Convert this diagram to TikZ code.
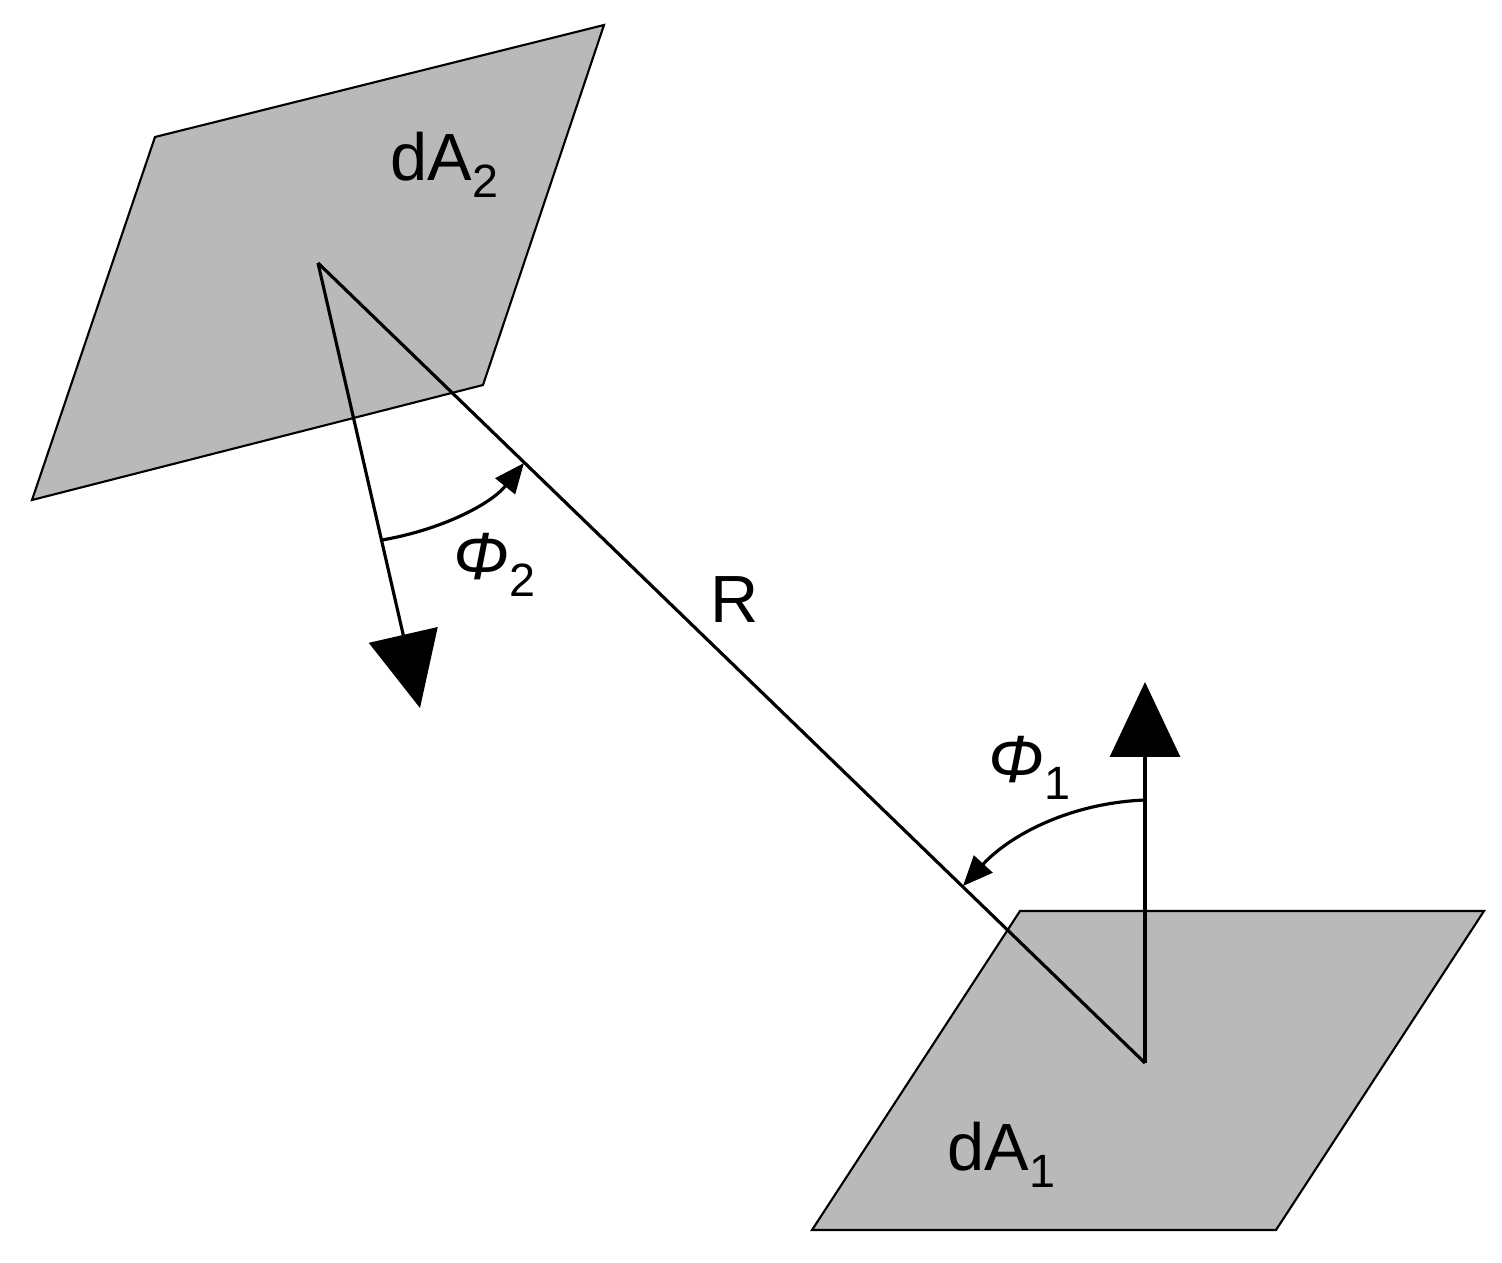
\documentclass[tikz,border=0pt]{standalone}
\usepackage{fontspec}
\setmainfont{Liberation Sans}
\usetikzlibrary{arrows.meta}
\begin{document}
\begin{tikzpicture}[x=0.02cm,y=-0.02cm,
  plate/.style={fill=black!30!white!85!gray,fill=gray!55,draw=black,line width=1.2pt},
  ln/.style={line width=1.8pt},
  big/.style={ln,-{Triangle[length=1.5cm,width=1.4cm]}},
  small/.style={ln,-{Triangle[length=0.6cm,width=0.5cm]}},
  lab/.style={font=\fontsize{38}{40}\selectfont,inner sep=0pt}]
\useasboundingbox (0,0) rectangle (1502,1262);
\draw[plate] (155,137) -- (604,25) -- (483,385) -- (32,500) -- cycle;
\draw[plate] (1020,911) -- (1484,911) -- (1276,1230) -- (812,1230) -- cycle;
\coordinate (p2) at (318,263);
\coordinate (p1) at (1145,1063);
\coordinate (n2) at (420,708);
\coordinate (n1) at (1145,682);
\draw[ln] (p2) -- (p1);
\draw[big] (p2) -- (n2);
\draw[big] (p1) -- (n1);
\coordinate (a2s) at (382,540);
\coordinate (a2e) at (524,463);
\coordinate (a1s) at (1145,800);
\coordinate (a1e) at (963,886);
\draw[small] (a2s) .. controls (440,530) and (490,505) .. (a2e);
\draw[small] (a1s) .. controls (1070,803) and (1010,835) .. (a1e);
\node[lab] (dA2) at (445,165) {dA\textsubscript{2}};
\node[lab] (dA1) at (1002,1155) {dA\textsubscript{1}};
\node[lab] (R) at (735,600) {R};
\node[lab] (phi2) at (495,565) {\itshape Φ\textsubscript{\upshape 2}};
\node[lab] (phi1) at (1030,768) {\itshape Φ\textsubscript{\upshape 1}};
\end{tikzpicture}
\end{document}
